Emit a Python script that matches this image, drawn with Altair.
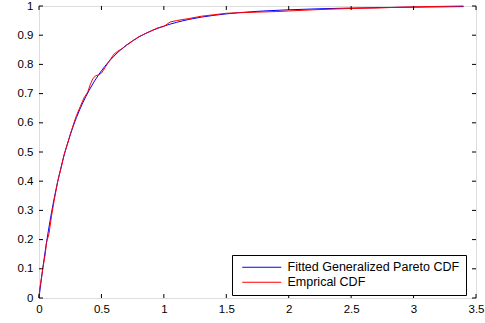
import altair as alt
import pandas as pd

# Fitted Generalized Pareto CDF
fit_x = [0, 0.02, 0.05, 0.1, 0.15, 0.2, 0.25, 0.3, 0.35, 0.4, 0.5, 0.6, 0.7, 0.8, 0.9,
         1.0, 1.2, 1.4, 1.6, 1.8, 2.0, 2.5, 3.0, 3.4]
fit_y = [0, 0.068, 0.161, 0.292, 0.399, 0.487, 0.558, 0.618, 0.668, 0.710, 0.778, 0.828,
         0.866, 0.894, 0.915, 0.931, 0.954, 0.968, 0.977, 0.983, 0.987, 0.993, 0.996, 0.998]

emp_x = [0, 0.005, 0.02, 0.03, 0.05, 0.06, 0.08, 0.1, 0.12, 0.15, 0.18, 0.2, 0.23, 0.25,
         0.28, 0.3, 0.33, 0.36, 0.39, 0.41, 0.43, 0.45, 0.48, 0.5, 0.53, 0.56, 0.6, 0.63,
         0.67, 0.7, 0.75, 0.8, 0.85, 0.9, 0.95, 1.0, 1.05, 1.1, 1.2, 1.3, 1.4, 1.5, 1.6,
         1.75, 1.9, 2.0, 2.2, 2.45, 2.7, 2.9, 3.1, 3.4]
emp_y = [0, 0.03, 0.07, 0.10, 0.15, 0.19, 0.22, 0.28, 0.33, 0.40, 0.45, 0.49, 0.53, 0.56,
         0.60, 0.625, 0.655, 0.685, 0.705, 0.73, 0.75, 0.76, 0.765, 0.77, 0.79, 0.81, 0.835,
         0.845, 0.855, 0.865, 0.88, 0.895, 0.905, 0.915, 0.925, 0.93, 0.945, 0.95, 0.957,
         0.965, 0.97, 0.975, 0.977, 0.979, 0.981, 0.983, 0.987, 0.991, 0.993, 0.996, 0.998, 1.0]

series_names = ["Fitted Generalized Pareto CDF", "Emprical CDF"]
series_colors = ["#0000ff", "#ff0000"]

x_ticks = [0, 0.5, 1, 1.5, 2, 2.5, 3, 3.5]
y_ticks = [0, 0.1, 0.2, 0.3, 0.4, 0.5, 0.6, 0.7, 0.8, 0.9, 1]

W, H = 437, 292
FONT = "Liberation Sans"

fit_df = pd.DataFrame({"x": fit_x, "y": fit_y, "s": series_names[0]})
emp_df = pd.DataFrame({"x": emp_x, "y": emp_y, "s": series_names[1]})
xt_df = pd.DataFrame({"t": x_ticks})
yt_df = pd.DataFrame({"t": y_ticks})

xscale = alt.Scale(domain=[0, 3.5], nice=False, zero=False)
yscale = alt.Scale(domain=[0, 1], nice=False, zero=False)

xaxis = alt.Axis(values=x_ticks, format="~g", ticks=False, domain=False, grid=False,
                 labelFont=FONT, labelFontSize=11.5, labelColor="#000", labelPadding=5,
                 title=None, labelFlush=False, labelOverlap=False)
yaxis = alt.Axis(values=y_ticks, format="~g", ticks=False, domain=False, grid=False,
                 labelFont=FONT, labelFontSize=11.5, labelColor="#000", labelPadding=6,
                 title=None, labelOverlap=False)

color = alt.Color("s:N", scale=alt.Scale(domain=series_names, range=series_colors),
                  legend=alt.Legend(title=None, orient="none", legendX=193, legendY=249,
                                    direction="vertical", strokeColor="black",
                                    fillColor="white", padding=6,
                                    symbolType="M-0.4,0H7.4", symbolSize=100,
                                    symbolStrokeWidth=1, labelLimit=0,
                                    labelFont=FONT, labelFontSize=12.5, labelColor="#000",
                                    labelOffset=37, rowPadding=2))

fit_line = alt.Chart(fit_df).mark_line(strokeWidth=1, interpolate="monotone").encode(
    x=alt.X("x:Q", scale=xscale, axis=xaxis),
    y=alt.Y("y:Q", scale=yscale, axis=yaxis),
    color=color,
)
emp_line = alt.Chart(emp_df).mark_line(strokeWidth=1).encode(
    x=alt.X("x:Q", scale=xscale, axis=xaxis),
    y=alt.Y("y:Q", scale=yscale, axis=yaxis),
    color=color,
)

tick_len = 4
xb = alt.Chart(xt_df).mark_rule(color="black", strokeWidth=1).encode(
    x=alt.X("t:Q", scale=xscale, axis=xaxis), y=alt.value(H), y2=alt.value(H - tick_len))
xtop = alt.Chart(xt_df).mark_rule(color="black", strokeWidth=1).encode(
    x=alt.X("t:Q", scale=xscale, axis=xaxis), y=alt.value(0), y2=alt.value(tick_len))
yl = alt.Chart(yt_df).mark_rule(color="black", strokeWidth=1).encode(
    y=alt.Y("t:Q", scale=yscale, axis=yaxis), x=alt.value(0), x2=alt.value(tick_len))
yr = alt.Chart(yt_df).mark_rule(color="black", strokeWidth=1).encode(
    y=alt.Y("t:Q", scale=yscale, axis=yaxis), x=alt.value(W), x2=alt.value(W - tick_len))

chart = alt.layer(fit_line, emp_line, xb, xtop, yl, yr).properties(
    width=W, height=H,
    autosize=alt.AutoSizeParams(type="none"),
    padding={"left": 39, "top": 6, "right": 9, "bottom": 25},
).configure_view(stroke="black", strokeWidth=1).configure(background="white")

chart.save("out.html", embed_options={"renderer": "svg", "actions": False})
